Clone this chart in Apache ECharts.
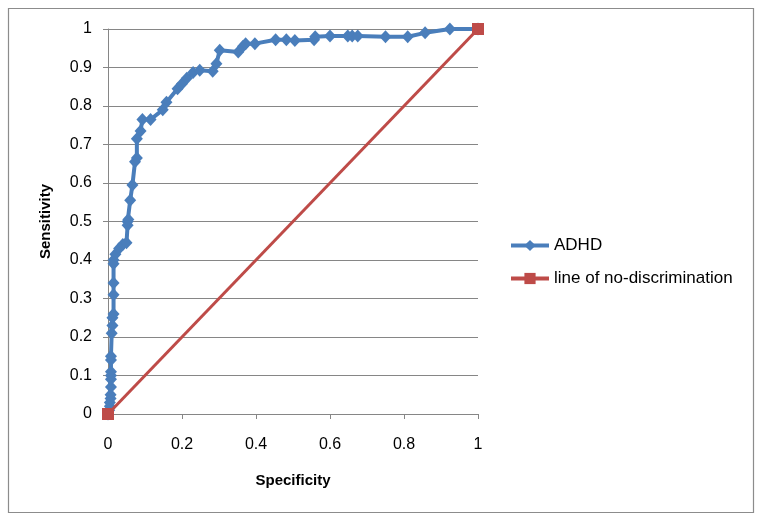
<!DOCTYPE html>
<html>
<head>
<meta charset="utf-8">
<script src="https://cdn.jsdelivr.net/npm/echarts@6/dist/echarts.min.js"></script>
<style>html,body{margin:0;padding:0;background:#fff}#c{width:762px;height:523px}</style>
</head>
<body>
<div id="c"></div>
<script>
var specificity = [0,0.003,0.005,0.005,0.007,0.007,0.008,0.008,0.008,0.008,0.008,0.008,0.01,0.012,0.012,0.015,0.015,0.015,0.015,0.015,0.02,0.03,0.04,0.05,0.053,0.053,0.055,0.06,0.066,0.073,0.078,0.078,0.088,0.093,0.115,0.148,0.158,0.188,0.2,0.213,0.23,0.248,0.283,0.293,0.302,0.352,0.365,0.372,0.397,0.453,0.482,0.505,0.557,0.56,0.6,0.648,0.66,0.675,0.75,0.81,0.857,0.924,1];
var sensitivity = [0,0.01,0.02,0.03,0.04,0.05,0.07,0.09,0.1,0.11,0.14,0.15,0.21,0.23,0.25,0.26,0.31,0.34,0.39,0.4,0.415,0.43,0.44,0.445,0.49,0.5,0.505,0.555,0.595,0.655,0.665,0.715,0.735,0.765,0.765,0.79,0.81,0.845,0.858,0.872,0.887,0.893,0.89,0.91,0.945,0.94,0.955,0.962,0.962,0.972,0.972,0.97,0.972,0.98,0.982,0.982,0.982,0.982,0.98,0.98,0.99,1,1];
var refX = [0,1];
var refY = [0,1];
var seriesNames = ['ADHD','line of no-discrimination'];
var xTitle = 'Specificity';
var yTitle = 'Sensitivity';

var adhd = specificity.map(function(v,i){return [v,sensitivity[i]];});
var ref = refX.map(function(v,i){return [v,refY[i]];});
var FF = 'Liberation Sans, Arial, sans-serif';
var chart = echarts.init(document.getElementById('c'));
chart.setOption({
  animation:false,
  backgroundColor:'#fff',
  textStyle:{fontFamily:FF},
  graphic:[{type:'rect',shape:{x:8.5,y:8.5,width:745,height:504},style:{fill:'none',stroke:'#8c8c8c',lineWidth:1.2},silent:true}],
  grid:{left:108,right:284,top:29,bottom:109},
  legend:{orient:'vertical',left:509,top:237,padding:0,itemGap:16,itemWidth:38,itemHeight:14,
    lineStyle:{width:4},
    textStyle:{fontFamily:FF,fontSize:17,color:'#000',lineHeight:14},
    data:seriesNames},
  xAxis:{type:'value',min:0,max:1,interval:0.2,
    name:xTitle,nameLocation:'middle',nameGap:59,
    nameTextStyle:{fontFamily:FF,fontSize:15,fontWeight:'bold',color:'#000'},
    axisLine:{show:true,lineStyle:{color:'#868686',width:1}},
    axisTick:{show:true,length:5,lineStyle:{color:'#868686'}},
    axisLabel:{fontSize:16,color:'#000',margin:23},
    splitLine:{show:false}},
  yAxis:{type:'value',min:0,max:1,interval:0.1,
    name:yTitle,nameLocation:'middle',nameGap:55,
    nameTextStyle:{fontFamily:FF,fontSize:15,fontWeight:'bold',color:'#000'},
    axisLine:{show:true,lineStyle:{color:'#868686',width:1}},
    axisTick:{show:true,length:5,lineStyle:{color:'#868686'}},
    axisLabel:{fontSize:16,color:'#000',margin:16},
    splitLine:{show:true,lineStyle:{color:'#868686',width:1}}},
  series:[
    {name:seriesNames[0],type:'line',data:adhd,symbol:'diamond',symbolSize:[12,13],
      lineStyle:{color:'#4a7ebb',width:4},itemStyle:{color:'#4a7ebb'},z:2},
    {name:seriesNames[1],type:'line',data:ref,symbol:'rect',symbolSize:12,
      lineStyle:{color:'#be4b48',width:3},itemStyle:{color:'#be4b48'},z:3}
  ]
});
</script>
</body>
</html>
